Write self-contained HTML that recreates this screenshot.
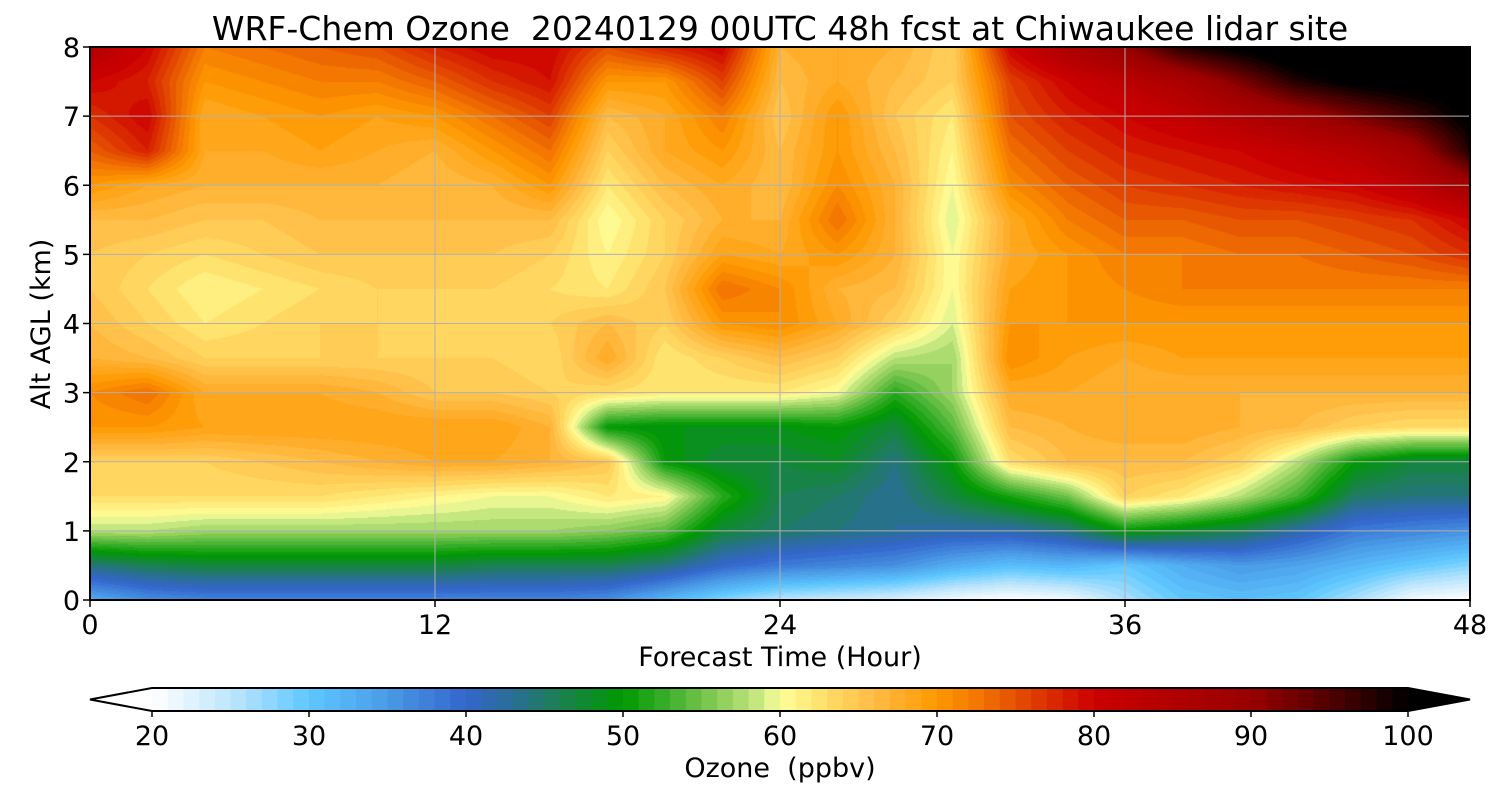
<!DOCTYPE html>
<html><head><meta charset="utf-8"><style>
body{margin:0;background:#fff;width:1500px;height:800px;overflow:hidden;font-family:"DejaVu Sans","Liberation Sans",sans-serif}
#plot{position:absolute;left:90px;top:47px}
svg{position:absolute;left:0;top:0}
text{white-space:pre;font-family:"DejaVu Sans","Liberation Sans",sans-serif}
</style></head><body>
<canvas id="plot" width="1380" height="553"></canvas>
<svg id="ov" width="1500" height="800"></svg>
<script>
const times=[0,2,4,6,8,10,12,14,16,18,20,22,24,26,28,30,32,34,36,38,40,42,44,46,48];
const alts=[0,0.5,1,1.5,2,2.5,3,3.5,4,4.5,5,5.5,6,6.5,7,7.5,8];
const ozone=[
[33,36,37,37,37,37,37,37,37,36,32,28,25,24,23,21,20,21,26,30,31,30,26,21,20],
[44,46,47,47,47,47,47,46,46,46,44,40,38,37,36,33,31,32,30,33,35,34,32,30,28],
[58,58,57,57,57,57,57,57,57,56,54,47,45,44,43,42,42,44,50,48,46,42,38,37,36],
[63,63,63,63,63,62,61,60,60,62,61,52,46,45,43,47,51,55,64,62,58,53,45,44,44],
[64,64,64,65,66,67,68,68,67,65,50,47,47,48,44,50,63,66,66,66,64,58,50,47,47],
[70,70,69,69,69,69,69,69,67,50,49,49,49,50,47,54,66,67,68,68,67,66,64,63,63],
[71,73,68,68,68,67,65,65,64,63,62,62,62,60,52,57,68,68,67,67,67,67,67,67,67],
[67,66,64,64,64,64,64,64,63,68,62,64,66,64,58,57,71,69,68,69,69,69,69,69,69],
[66,64,62,63,64,64,63,63,64,66,64,70,71,68,64,59,70,70,70,70,70,70,70,70,70],
[65,63,61,62,63,64,64,64,63,62,65,73,71,67,66,60,69,70,71,72,72,72,72,72,72],
[65,64,63,64,65,65,65,65,64,61,64,69,68,70,67,60,68,70,72,72,73,73,74,75,77],
[66,66,65,65,66,66,66,66,66,60,64,67,67,73,67,59,68,72,74,74,75,75,76,77,80],
[70,68,67,67,67,67,66,67,70,62,66,68,66,71,67,60,71,74,76,77,78,79,80,83,88],
[74,78,68,68,69,68,67,70,73,64,68,70,66,70,66,61,73,76,78,79,80,82,84,88,98],
[77,80,68,69,70,69,70,73,76,66,68,72,65,70,65,62,75,78,80,82,85,88,92,96,101],
[80,78,70,71,72,72,74,77,79,70,70,76,66,68,66,64,76,80,83,86,92,98,101,102,102],
[85,80,72,73,74,75,78,80,80,75,78,80,67,68,67,64,80,86,90,98,101,104,104,104,104]];
const xTicks=[0,12,24,36,48];
const yTicks=[0,1,2,3,4,5,6,7,8];
const cbTicks=[20,30,40,50,60,70,80,90,100];
const cmapVals=[20,25,30,35,40,43,46,50,53,56,59,60,63,66,70,73,76,80,85,90,95,100];
const cmapCols=["#ffffff","#bfe6fc","#5ec8ff","#4a9ae6","#3366cc","#2a6e96","#1a8050","#009900","#40b030","#88cc55","#d0ec88","#ffff99","#ffdd66","#ffbb44","#ff9900","#f07000","#e04000","#cc0000","#b00000","#990000","#500000","#000000"];
function hex(c){return [parseInt(c.slice(1,3),16),parseInt(c.slice(3,5),16),parseInt(c.slice(5,7),16)];}
const cRGB=cmapCols.map(hex);
function color(v){
  if(v<=cmapVals[0])return cRGB[0];
  if(v>=cmapVals[cmapVals.length-1])return cRGB[cRGB.length-1];
  for(let i=0;i<cmapVals.length-1;i++){if(v<=cmapVals[i+1]){const f=(v-cmapVals[i])/(cmapVals[i+1]-cmapVals[i]);const a=cRGB[i],b=cRGB[i+1];return [0,1,2].map(k=>Math.round(a[k]+(b[k]-a[k])*f));}}
}
const X0=90,X1=1470,Y0=600,Y1=47;
const xs=t=>X0+(t-0)/48*(X1-X0), ys=a=>Y0-(a/8)*(Y0-Y1);
function sample(t,a){
  let i=Math.min(times.length-2,Math.floor(t/2)),j=Math.min(alts.length-2,Math.floor(a/0.5));
  const ft=(t-times[i])/2,fa=(a-alts[j])/0.5;
  const v00=ozone[j][i],v01=ozone[j][i+1],v10=ozone[j+1][i],v11=ozone[j+1][i+1];
  return (v00*(1-ft)+v01*ft)*(1-fa)+(v10*(1-ft)+v11*ft)*fa;
}
const cv=document.getElementById('plot'),ctx=cv.getContext('2d');
const W=cv.width,H=cv.height,img=ctx.createImageData(W,H);
for(let py=0;py<H;py++){const a=(H-py-0.5)/H*8;for(let px=0;px<W;px++){const t=(px+0.5)/W*48;
  const v=Math.floor(sample(t,a));const c=color(Math.max(20,Math.min(100,v))+0.5);const k=(py*W+px)*4;
  img.data[k]=c[0];img.data[k+1]=c[1];img.data[k+2]=c[2];img.data[k+3]=255;}}
ctx.putImageData(img,0,0);
const NS="http://www.w3.org/2000/svg",svg=document.getElementById('ov');
function el(tag,at,txt){const e=document.createElementNS(NS,tag);for(const k in at)e.setAttribute(k,at[k]);if(txt!==undefined)e.textContent=txt;svg.appendChild(e);return e;}
xTicks.forEach(t=>{
  const g=el('line',{x1:xs(t),x2:xs(t),y1:Y1,y2:Y0,stroke:'#b0b0b0','stroke-width':1});
  
  
  const tk=el('line',{x1:xs(t),x2:xs(t),y1:Y0,y2:Y0+7,stroke:'#000','stroke-width':1.5});
  
  
  const l=el('text',{x:xs(t),y:634,'font-size':27,'text-anchor':'middle'},String(t));
  
  
});
yTicks.forEach(a=>{
  const g=el('line',{x1:X0,x2:X1,y1:ys(a),y2:ys(a),stroke:'#b0b0b0','stroke-width':1});
  
  
  const tk=el('line',{x1:X0-7,x2:X0,y1:ys(a),y2:ys(a),stroke:'#000','stroke-width':1.5});
  
  
  const l=el('text',{x:X0-10,y:ys(a)+10,'font-size':27,'text-anchor':'end'},String(a));
  
  
});
const fr=el('rect',{x:X0,y:Y1,width:X1-X0,height:Y0-Y1,fill:'none',stroke:'#000','stroke-width':2});


const ti=el('text',{x:780,y:40,'font-size':33,'text-anchor':'middle'},'WRF-Chem Ozone  20240129 00UTC 48h fcst at Chiwaukee lidar site');


const xl=el('text',{x:780,y:666,'font-size':27,'text-anchor':'middle'},'Forecast Time (Hour)');


const yl=el('text',{x:50,y:324,'font-size':27,'text-anchor':'middle',transform:'rotate(-90 50 324)'},'Alt AGL (km)');


const CB0=152,CB1=1408,CBy=688,CBh=23,cx=v=>CB0+(v-20)/80*(CB1-CB0);
for(let v=20;v<100;v++){
  const c=color(v+0.5);
  const r=el('rect',{x:cx(v),y:CBy,width:(CB1-CB0)/80+0.6,height:CBh,fill:`rgb(${c[0]},${c[1]},${c[2]})`});
  
  
}
const lo=el('polygon',{points:`${CB0},${CBy} 90,${CBy+CBh/2} ${CB0},${CBy+CBh}`,fill:'#fff',stroke:'none'});


const hi=el('polygon',{points:`${CB1},${CBy} 1470,${CBy+CBh/2} ${CB1},${CBy+CBh}`,fill:'#000'});


const ol=el('polygon',{points:`${CB0},${CBy} ${CB1},${CBy} 1470,${CBy+CBh/2} ${CB1},${CBy+CBh} ${CB0},${CBy+CBh} 90,${CBy+CBh/2}`,fill:'none',stroke:'#000','stroke-width':2});


cbTicks.forEach(v=>{
  const tk=el('line',{x1:cx(v),x2:cx(v),y1:CBy+CBh,y2:CBy+CBh+6,stroke:'#000','stroke-width':1.5});
  
  
  const l=el('text',{x:cx(v),y:745,'font-size':27,'text-anchor':'middle'},String(v));
  
  
});
const cl=el('text',{x:780,y:777,'font-size':27,'text-anchor':'middle'},'Ozone  (ppbv)');


</script>
</body></html>
